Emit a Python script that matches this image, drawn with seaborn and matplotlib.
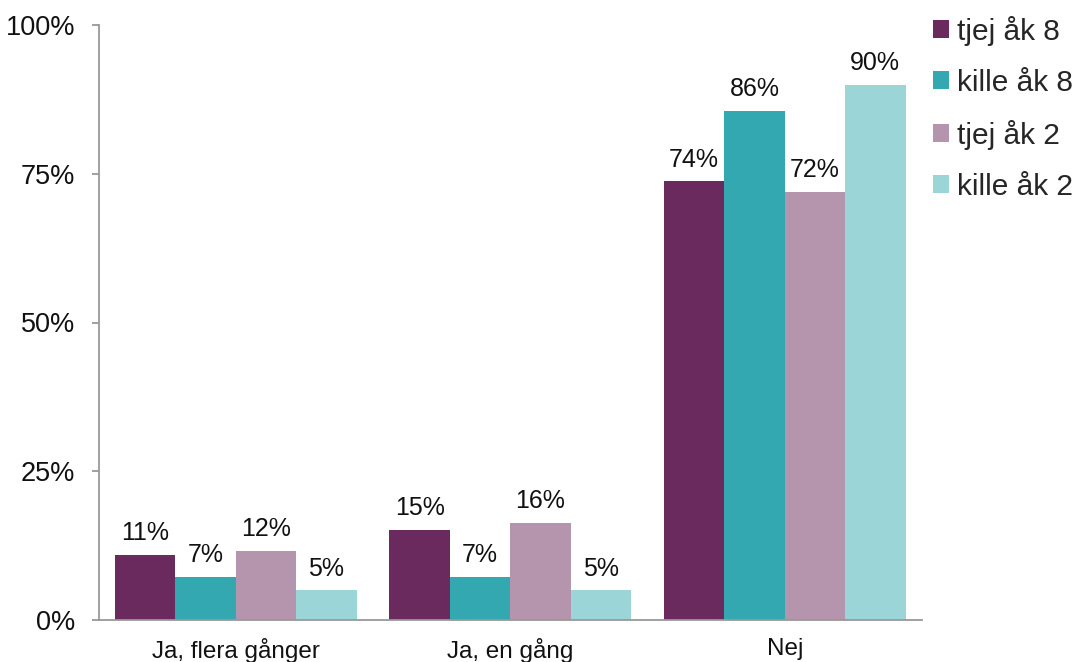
import matplotlib
matplotlib.use("Agg")
import matplotlib.pyplot as plt
import seaborn as sns
import pandas as pd
from matplotlib.patches import Patch

categories = ["Ja, flera gånger", "Ja, en gång", "Nej"]
series = ["tjej åk 8", "kille åk 8", "tjej åk 2", "kille åk 2"]
tjej_ak8 = [10.9, 15.2, 73.7]
kille_ak8 = [7.3, 7.3, 85.6]
tjej_ak2 = [11.6, 16.3, 72.0]
kille_ak2 = [5.0, 5.0, 89.9]
colors = ["#6A2A5E", "#33A8B1", "#B594AE", "#9CD5D8"]
yticks = [0, 25, 50, 75, 100]
ytick_labels = ["0%", "25%", "50%", "75%", "100%"]

values = [tjej_ak8, kille_ak8, tjej_ak2, kille_ak2]
rows = []
for s, vals in zip(series, values):
    for c, v in zip(categories, vals):
        rows.append({"category": c, "series": s, "value": v})
df = pd.DataFrame(rows)

sns.set_theme(style="white")
plt.rcParams["font.family"] = ["Liberation Sans", "DejaVu Sans"]

W, H = 1077, 662
fig = plt.figure(figsize=(W / 100, H / 100), dpi=100)
ax = fig.add_axes([98.5 / W, (H - 620) / H, (922 - 98.5) / W, (620 - 25) / H])

sns.barplot(data=df, x="category", y="value", hue="series", order=categories,
            hue_order=series, palette=colors, width=0.88, gap=0, linewidth=0,
            saturation=1, errorbar=None, legend=False, ax=ax)

for container in ax.containers:
    ax.bar_label(container, labels=[f"{b.get_height():.0f}%" for b in container],
                 padding=7, fontsize=18, color="#111111")

grey = "#999999"
ax.set_xlim(-0.5, 2.5)
ax.set_ylim(0, 100)
ax.set_yticks(yticks)
ax.set_yticklabels(ytick_labels, fontsize=19.5, color="#111111")
ax.set_xticks(range(len(categories)))
ax.set_xticklabels(categories, fontsize=17.5, color="#111111")
ax.set_xticks([-0.5, 0.5, 1.5, 2.5], minor=True)
ax.tick_params(axis="x", which="major", length=0, pad=13)
ax.tick_params(axis="x", which="minor", length=4, color=grey, width=1.3, direction="out")
ax.tick_params(axis="y", which="major", length=5, color=grey, width=1.3, direction="out", pad=12, left=True)
ax.set_xlabel("")
ax.set_ylabel("")
for side in ["top", "right"]:
    ax.spines[side].set_visible(False)
for side in ["left", "bottom"]:
    ax.spines[side].set_color(grey)
    ax.spines[side].set_linewidth(1.3)

handles = [Patch(facecolor=c, edgecolor="none") for c in colors]
fig.legend(handles, series, loc="upper left", bbox_to_anchor=(933 / W, 1 - 16 / H),
           frameon=False, fontsize=21.5, handlelength=0.55, handleheight=0.55,
           handletextpad=0.25, labelspacing=0.77, borderaxespad=0, borderpad=0)

fig.savefig("out.png", dpi=100)
